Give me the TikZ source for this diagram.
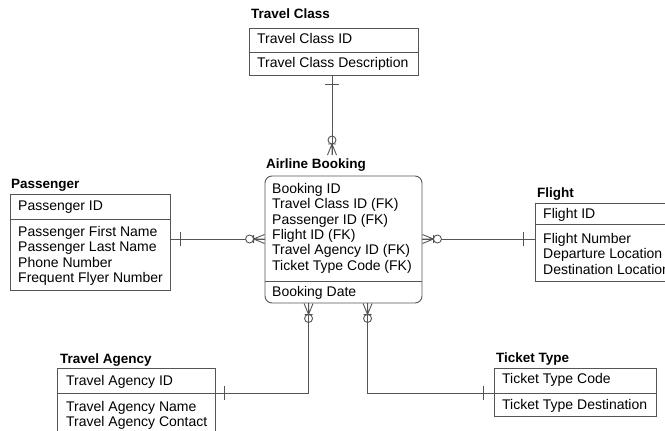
\documentclass[tikz,border=0pt]{standalone}
\usepackage{fontspec}
\setmainfont{Liberation Sans}
\usetikzlibrary{calc}
\definecolor{edge}{RGB}{85,85,85}
\begin{document}
\begin{tikzpicture}[x=1pt,y=-1pt,
  box/.style={draw=edge,line width=0.9pt,inner sep=0,minimum width=#1},
  conn/.style={draw=edge,line width=0.9pt},
  etitle/.style={inner sep=0,anchor=base west,font=\bfseries\fontsize{13.5}{15}\selectfont},
  attr/.style={inner sep=0,anchor=base west,font=\fontsize{14}{15.5}\selectfont},
  zmany/.pic={\draw[conn] (0,-4.5)--(11,0)--(0,4.5) (0,0)--(11,0) (11,-4)--(11,4);
              \draw[conn,fill=white] (15,0) circle (4);},
  zmanythru/.pic={\draw[conn] (0,-4.5)--(11,0)--(0,4.5) (0,0)--(11,0) (11,-4)--(11,4);
              \draw[conn] (15,0) circle (4);},
  onemark/.pic={\draw[conn] (0,-7)--(0,7);}]
\useasboundingbox (0,0) rectangle (665,431);
\clip (0,0) rectangle (665,431);

% ---- entity boxes ----
\node[box=169pt,minimum height=47pt] (tc) at (333.5,51.5) {};
\node[box=160pt,minimum height=96pt] (pa) at (90,242) {};
\node[box=157pt,minimum height=127pt,rounded corners=7pt] (ab) at (343.5,239.5) {};
\node[box=165pt,minimum height=78pt] (fl) at (617.5,242) {};
\node[box=158pt,minimum height=77pt] (ta) at (136,406.5) {};
\node[box=162pt,minimum height=48pt] (tt) at (575,392) {};

% key / non-key separators
\coordinate (tcDiv) at (0,52);
\coordinate (paDiv) at (0,219);
\coordinate (abDiv) at (0,281);
\coordinate (flDiv) at (0,224);
\coordinate (taDiv) at (0,393);
\coordinate (ttDiv) at (0,393);
\draw[conn] (tc.west |- tcDiv) -- (tc.east |- tcDiv);
\draw[conn] (pa.west |- paDiv) -- (pa.east |- paDiv);
\draw[conn] (ab.west |- abDiv) -- (ab.east |- abDiv);
\draw[conn] (fl.west |- flDiv) -- (fl.east |- flDiv);
\draw[conn] (ta.west |- taDiv) -- (ta.east |- taDiv);
\draw[conn] (tt.west |- ttDiv) -- (tt.east |- ttDiv);

% ---- titles ----
\node[etitle] (tcT) at (251,19) {Travel Class};
\node[etitle] (paT) at (11,188) {Passenger};
\node[etitle] (abT) at (266,168) {Airline Booking};
\node[etitle] (flT) at (537,197) {Flight};
\node[etitle] (taT) at (60,363) {Travel Agency};
\node[etitle] (ttT) at (496,362) {Ticket Type};

% ---- attributes ----
\node[attr] (tcK) at (257,43) {Travel Class ID};
\node[attr] (tcA) at (257,67) {Travel Class Description};

\node[attr] (paK) at (18,210) {Passenger ID};
\node[attr] (paA) at (18,236) {\begin{tabular}[t]{@{}l@{}}Passenger First Name\\Passenger Last Name\\Phone Number\\Frequent Flyer Number\end{tabular}};

\node[attr] (abK) at (272,193) {\begin{tabular}[t]{@{}l@{}}Booking ID\\Travel Class ID (FK)\\Passenger ID (FK)\\Flight ID (FK)\\Travel Agency ID (FK)\\Ticket Type Code (FK)\end{tabular}};
\node[attr] (abA) at (272,296) {Booking Date};

\node[attr] (flK) at (543,218) {Flight ID};
\node[attr] (flA) at (543,243) {\begin{tabular}[t]{@{}l@{}}Flight Number\\Departure Location\\Destination Location\end{tabular}};

\node[attr] (taK) at (66,385) {Travel Agency ID};
\node[attr] (taA) at (66,411) {\begin{tabular}[t]{@{}l@{}}Travel Agency Name\\Travel Agency Contact\end{tabular}};

\node[attr] (ttK) at (502,383) {Ticket Type Code};
\node[attr] (ttA) at (502,409) {Ticket Type Destination};

% ---- relationships ----
% Travel Class -> Airline Booking
\coordinate (abTop) at (332,155);
\draw[conn] (abTop |- tc.south) -- (abTop);
\pic[rotate=90] at ($(abTop |- tc.south)+(0,9)$) {onemark};
\pic[rotate=90] at (abTop) {zmanythru};

% Passenger -> Airline Booking
\coordinate (rowP) at (0,239);
\draw[conn] (pa.east |- rowP) -- (ab.west |- rowP);
\pic at ($(pa.east |- rowP)+(10,0)$) {onemark};
\pic[rotate=180] at (ab.west |- rowP) {zmany};

% Flight -> Airline Booking
\draw[conn] (ab.east |- rowP) -- (fl.west |- rowP);
\pic at ($(fl.west |- rowP)+(-11,0)$) {onemark};
\pic at (ab.east |- rowP) {zmany};

% Travel Agency -> Airline Booking
\coordinate (abTA) at ($(ab.south west)+(44,0)$);
\draw[conn] (abTA) |- (ta.east |- taDiv);
\pic at ($(ta.east |- taDiv)+(9,0)$) {onemark};
\pic[rotate=-90] at (abTA) {zmanythru};

% Ticket Type -> Airline Booking
\coordinate (abTT) at ($(ab.south west)+(103,0)$);
\draw[conn] (abTT) |- (tt.west |- ttDiv);
\pic at ($(tt.west |- ttDiv)+(-10,0)$) {onemark};
\pic[rotate=-90] at (abTT) {zmanythru};
\end{tikzpicture}
\end{document}
